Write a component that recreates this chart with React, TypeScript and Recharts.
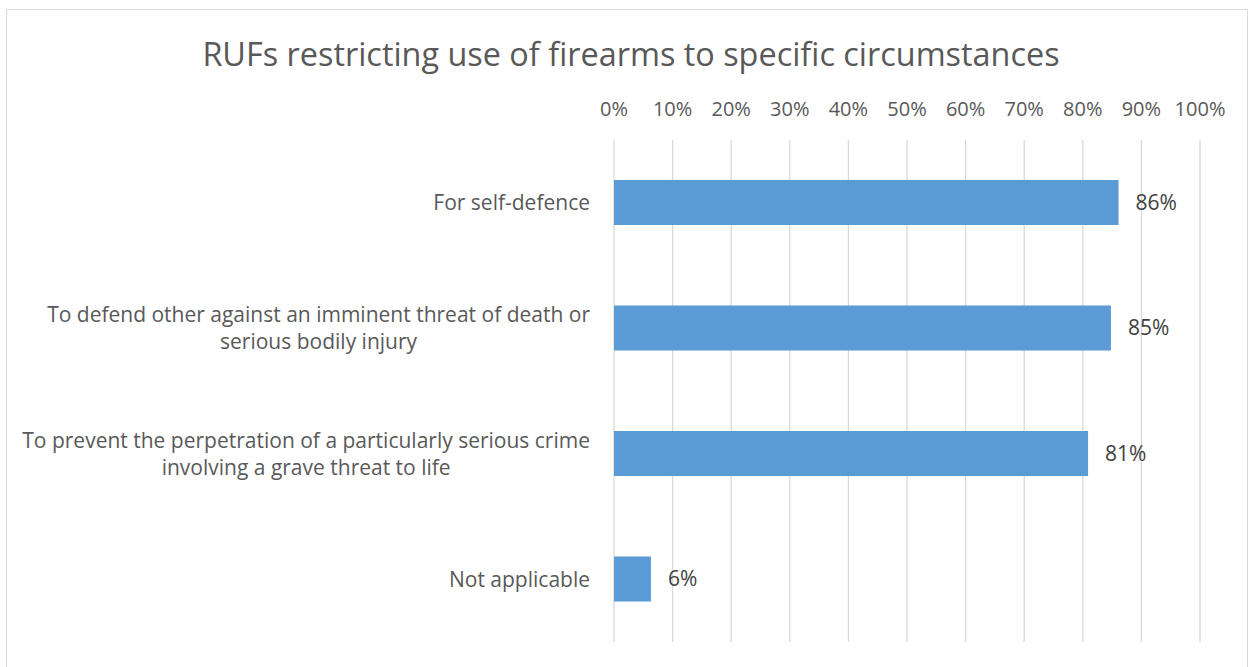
import { BarChart, Bar, XAxis, YAxis, CartesianGrid, LabelList } from 'recharts'

const title = 'RUFs restricting use of firearms to specific circumstances'

// category labels, '\n' marks where the original wraps
const categories = [
  'For self-defence',
  'To defend other against an imminent threat of death or\nserious bodily injury',
  'To prevent the perpetration of a particularly serious crime\ninvolving a grave threat to life',
  'Not applicable',
]
const shares = [0.861, 0.848, 0.809, 0.063]
const xTicks = [0, 0.1, 0.2, 0.3, 0.4, 0.5, 0.6, 0.7, 0.8, 0.9, 1]

const data = categories.map((name, i) => ({ name, value: shares[i] }))

const FONT = '"Open Sans", sans-serif'
const TEXT = '#595959'
const LABEL_SIZE = 21

const pct = (v: number) => `${Math.round(v * 100)}%`

let measureCtx: CanvasRenderingContext2D | null = null
function textWidth(s: string, size: number) {
  if (!measureCtx) measureCtx = document.createElement('canvas').getContext('2d')
  if (!measureCtx) return s.length * size * 0.5
  measureCtx.font = `${size}px ${FONT}`
  return measureCtx.measureText(s).width
}

// right-aligned block, each line centred inside it (like the original)
function CategoryTick(props: any) {
  const { x, y, payload } = props
  const lines = String(payload.value).split('\n')
  const lh = 27
  const widest = Math.max(...lines.map((l) => textWidth(l, LABEL_SIZE)))
  const cx = x - widest / 2
  const y0 = y - ((lines.length - 1) * lh) / 2
  return (
    <text fill={TEXT} fontSize={LABEL_SIZE} fontFamily={FONT} textAnchor="middle">
      {lines.map((l, i) => (
        <tspan key={i} x={cx} y={y0 + i * lh} dy="0.35em">
          {l}
        </tspan>
      ))}
    </text>
  )
}

export default function App() {
  return (
    <div style={{ position: 'absolute', left: 0, top: 0, width: 1250, height: 667, overflow: 'hidden', background: '#fff' }}>
      <div
        style={{
          position: 'absolute',
          left: 6,
          top: 9,
          width: 1242,
          height: 700,
          border: '1px solid #d9d9d9',
          boxSizing: 'border-box',
        }}
      />
      <div
        style={{
          position: 'absolute',
          left: 0,
          top: 32,
          width: 1262,
          textAlign: 'center',
          fontFamily: FONT,
          fontSize: 32.4,
          color: TEXT,
          lineHeight: '42px',
        }}
      >
        {title}
      </div>
      <div style={{ position: 'absolute', left: 0, top: 0 }}>
        <BarChart
          width={1250}
          height={667}
          data={data}
          layout="vertical"
          margin={{ top: 100, right: 50, bottom: 25, left: 0 }}
          barSize={45}
        >
          <CartesianGrid horizontal={false} stroke="#d9d9d9" strokeWidth={1.3} />
          <XAxis
            type="number"
            orientation="top"
            domain={[0, 1]}
            ticks={xTicks}
            tickFormatter={pct}
            height={40}
            axisLine={false}
            tickLine={false}
            tickSize={0}
            tickMargin={24}
            interval={0}
            tick={{ fill: TEXT, fontSize: 20, fontFamily: FONT }}
          />
          <YAxis
            type="category"
            dataKey="name"
            width={614}
            axisLine={false}
            tickLine={false}
            tickSize={0}
            tickMargin={24}
            interval={0}
            tick={<CategoryTick />}
          />
          <Bar dataKey="value" fill="#5b9bd5" isAnimationActive={false}>
            <LabelList
              dataKey="value"
              position="right"
              offset={17}
              formatter={(v: any) => pct(Number(v))}
              fill="#404040"
              fontSize={21}
              fontFamily={FONT}
            />
          </Bar>
        </BarChart>
      </div>
    </div>
  )
}
